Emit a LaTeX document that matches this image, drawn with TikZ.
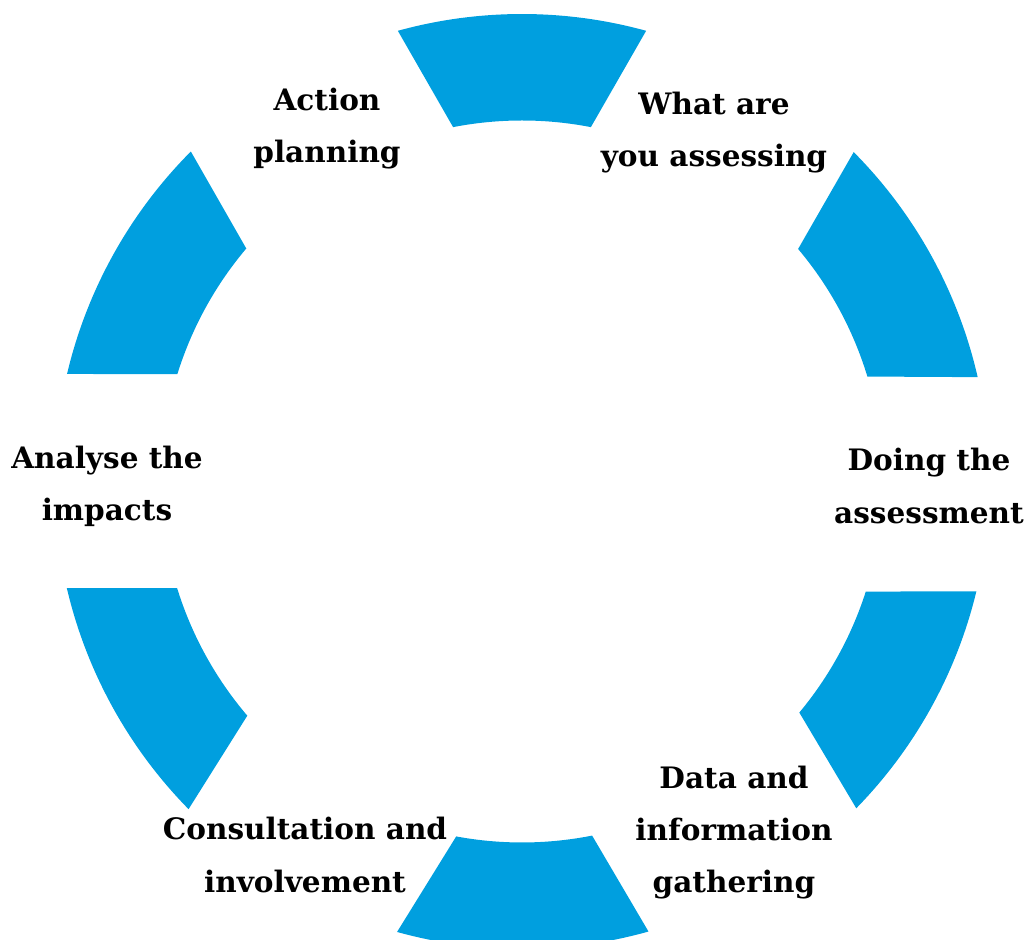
\documentclass[tikz,border=0pt]{standalone}
\usepackage{fontspec}
\setmainfont{DejaVu Serif}
\usepackage{tikz}
\usetikzlibrary{positioning,calc}

\definecolor{segBlue}{RGB}{0,159,223}

\begin{document}
\begin{tikzpicture}[every text node part/.style={align=center}]
\tikzset{myFont/.style={font=\fontsize{16.8}{29.6}\selectfont\bfseries}}
\tikzset{myLabel/.style={draw=none,myFont,inner sep=0pt}}
\tikzset{mySegment/.style={fill=segBlue,draw=none}}

\useasboundingbox (-10.44,-9.17) rectangle (10.10,9.63);

% ring segments: outer from/to, inner from/to
\foreach \oa/\ob/\ia/\ib in {74.6/105.4/101.0/79.0,135.1/166.7/162.7/139.8,193.2/224.5/220.45/197.2,254.5/285.7/281.2/259.5,315.65/346.4/342.25/320.2,12.9/44.8/40.1/16.9}
  \fill[mySegment] (\oa:9.35) arc[start angle=\oa,end angle=\ob,radius=9.35] -- (\ia:7.22) arc[start angle=\ia,end angle=\ib,radius=7.22] -- cycle;

\node[myLabel] (what) at (3.84,6.97) {What are\\you assessing};
\node[myLabel] (doing) at (8.14,-0.09) {Doing the\\assessment};
\node[myLabel] (data) at (4.24,-7.03) {Data and\\information\\gathering};
\node[myLabel] (consult) at (-4.34,-7.47) {Consultation and\\involvement};
\node[myLabel] (analyse) at (-8.30,-0.09) {Analyse the\\impacts};
\node[myLabel] (action) at (-3.90,7.05) {Action\\planning};

\end{tikzpicture}
\end{document}
